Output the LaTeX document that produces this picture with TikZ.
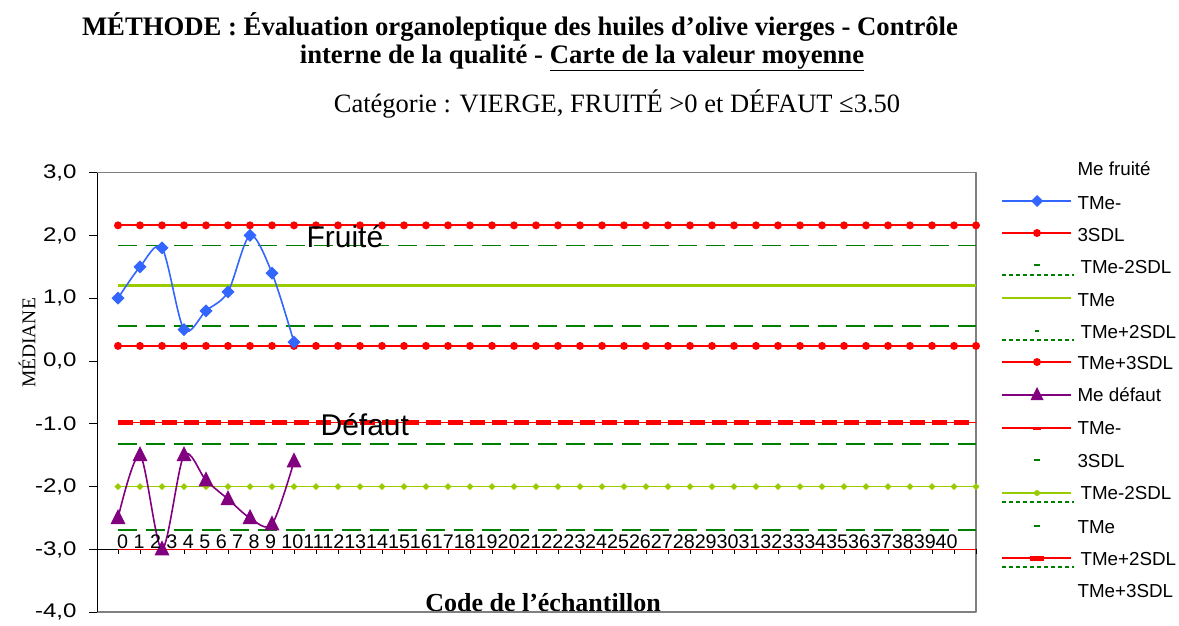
\documentclass[tikz,border=0pt]{standalone}
\usepackage{fontspec}
\setmainfont{Liberation Serif}
\setsansfont{Liberation Sans}
\usetikzlibrary{calc}

\definecolor{fruitblue}{RGB}{51,102,255}
\definecolor{limitred}{RGB}{255,0,0}
\definecolor{warngreen}{RGB}{0,128,0}
\definecolor{meangreen}{RGB}{153,204,0}
\definecolor{defpurple}{RGB}{128,0,128}
\definecolor{framegray}{RGB}{128,128,128}

\begin{document}
\begin{tikzpicture}[x=1pt,y=1pt,line join=round,
    limit/.style={limitred,line width=1.8pt},
    warn/.style={warngreen,line width=1.6pt,dash pattern=on 19pt off 9pt},
    meanline/.style={meangreen,line width=2.4pt},
    axisfont/.style={font=\sffamily\fontsize{19.7}{22}\selectfont},
    legfont/.style={font=\sffamily\fontsize{18.8}{22}\selectfont,anchor=west}]
    \useasboundingbox (0,0) rectangle (1179,-626);

    % Titles above the chart.
    \node[font=\bfseries\fontsize{26.7}{30}\selectfont] (title1) at (520,-27)
      {MÉTHODE : Évaluation organoleptique des huiles d’olive vierges - Contrôle};
    \node[font=\bfseries\fontsize{26.7}{30}\selectfont] (title2) at (582,-58)
      {interne de la qualité - \underline{Carte de la valeur moyenne}};
    \node[font=\fontsize{26.5}{30}\selectfont] (subtitle) at (617,-104)
      {Catégorie : VIERGE, FRUITÉ >0 et DÉFAUT ≤3.50};
    \node[font=\fontsize{19.5}{22}\selectfont,rotate=90] (ylabel) at (27,-343)
      {MÉDIANE};
    \node[font=\bfseries\fontsize{26}{28}\selectfont] (xlabel) at (543,-603)
      {Code de l’échantillon};

    \begin{scope}[shift={(118,-361)},x=22pt,y=62.8pt]
    % Plot area and axes.
    \draw[framegray,line width=1.5pt] (-0.955,-4) -- (39,-4) -- (39,3)
      -- (-0.955,3);
    \draw[line width=0.8pt] (-0.955,-4) -- (-0.955,3);
    \foreach \v/\txt in {3/{3,0},2/{2,0},1/{1,0},0/{0,0},-1/{-1.0},
        -2/{-2,0},-3/{-3,0},-4/{-4,0}} {
      \draw[line width=0.8pt] (-0.955,\v) -- ++(-8pt,0);
      \node[axisfont,anchor=east] at ($(-0.955,\v)+(-17pt,0)$)
        {\scalebox{1.22}[1]{\txt}};
    }
    \draw[line width=0.8pt] ($(-0.955,-3)+(-8pt,0)$) -- (39,-3);
    \foreach \i in {0,...,39}
      \draw[line width=0.6pt] (\i,-3) -- ++(0,-5pt);

    % Control limits of the fruity median.
    \draw[limit] (0,2.16) -- (39,2.16);
    \draw[limit] (0,0.24) -- (39,0.24);
    \foreach \i in {0,...,39} {
      \fill[limitred] (\i,2.16) circle (4pt);
      \fill[limitred] (\i,0.24) circle (4pt);
    }
    \draw[warn] (0,1.84) -- (39,1.84);
    \draw[meanline] (0,1.205) -- (39,1.205);
    \draw[warn] (0,0.56) -- (39,0.56);

    % Control limits of the defect median.
    \draw[limit] (0,-0.98) -- (39,-0.98);
    \draw[limitred,line width=4.5pt,dash pattern=on 15pt off 7pt]
      (0,-0.98) -- (39,-0.98);
    \draw[warn] (0,-1.32) -- (39,-1.32);
    \draw[meangreen,line width=1.6pt] (0,-2) -- (39,-2);
    \foreach \i in {0,...,39}
      \fill[meangreen] (\i,-2) ++(0,3.5pt) -- ++(3.5pt,-3.5pt)
        -- ++(-3.5pt,-3.5pt) -- ++(-3.5pt,3.5pt) -- cycle;
    \draw[warn] (0,-2.69) -- (39,-2.69);
    \draw[limit] (0,-3) -- (39,-3);

    % Fruity medians.
    \draw[fruitblue,line width=1.6pt] plot[smooth] coordinates
      {(0,1.0) (1,1.5) (2,1.8) (3,0.5) (4,0.8) (5,1.1) (6,2.0) (7,1.4) (8,0.3)};
    \foreach \v [count=\i from 0] in {1.0,1.5,1.8,0.5,0.8,1.1,2.0,1.4,0.3}
      \fill[fruitblue] (\i,\v) ++(0,6.5pt) -- ++(6.5pt,-6.5pt)
        -- ++(-6.5pt,-6.5pt) -- ++(-6.5pt,6.5pt) -- cycle;

    % Defect medians.
    \draw[defpurple,line width=1.6pt] plot[smooth] coordinates
      {(0,-2.5) (1,-1.5) (2,-3.0) (3,-1.5) (4,-1.9) (5,-2.2) (6,-2.5)
       (7,-2.6) (8,-1.6)};
    \foreach \v [count=\i from 0] in {-2.5,-1.5,-3.0,-1.5,-1.9,-2.2,-2.5,-2.6,-1.6}
      \fill[defpurple] (\i,\v) ++(0,9pt) -- ++(7.5pt,-15pt) -- ++(-15pt,0)
        -- cycle;

    \node[font=\sffamily\fontsize{30}{32}\selectfont,anchor=base west]
      (fruite) at (8.41,1.815) {Fruité};
    \node[font=\sffamily\fontsize{30}{32}\selectfont,anchor=base west]
      (defaut) at (9.05,-1.18) {Défaut};
    \node[axisfont,anchor=west,inner sep=0pt] (codes) at ($(0,-3)+(-1pt,8pt)$)
      {0 1 2 3 4 5 6 7 8 9 10111213141516171819202122232425262728293031323334353637383940};
    \end{scope}

    % Legend.
    \node[legfont] (leg1) at (1074,-169) {Me fruité};
    \draw[fruitblue,line width=1.8pt] (1002,-201) -- (1071,-201);
    \fill[fruitblue] (1037,-201) ++(0,6pt) -- ++(6pt,-6pt) -- ++(-6pt,-6pt)
      -- ++(-6pt,6pt) -- cycle;
    \node[legfont] (leg2) at (1074,-203) {TMe-};
    \draw[limit] (1002,-233) -- (1071,-233);
    \fill[limitred] (1037,-233) circle (4pt);
    \node[legfont] (leg3) at (1074,-235) {3SDL};
    \fill[warngreen] (1034,-264) rectangle (1040,-266);
    \draw[warngreen,line width=1.4pt,dash pattern=on 4pt off 3pt]
      (1002,-275) -- (1074,-275);
    \node[legfont] (leg4) at (1077,-267) {TMe-2SDL};
    \draw[meanline] (1002,-298) -- (1071,-298);
    \node[legfont] (leg5) at (1074,-300) {TMe};
    \fill[warngreen] (1035,-330) rectangle (1039,-332);
    \draw[warngreen,line width=1.4pt,dash pattern=on 4pt off 3pt]
      (1002,-340) -- (1074,-340);
    \node[legfont] (leg6) at (1077,-332) {TMe+2SDL};
    \draw[limit] (1002,-362) -- (1071,-362);
    \fill[limitred] (1037,-362) circle (4pt);
    \node[legfont] (leg7) at (1074,-363) {TMe+3SDL};
    \draw[defpurple,line width=1.8pt] (1002,-395) -- (1071,-395);
    \fill[defpurple] (1037,-395) ++(0,8pt) -- ++(6.5pt,-13pt) -- ++(-13pt,0)
      -- cycle;
    \node[legfont] (leg8) at (1074,-395) {Me défaut};
    \draw[limit] (1002,-428) -- (1071,-428);
    \fill[limitred] (1033,-426.5) rectangle (1041,-429.5);
    \node[legfont] (leg9) at (1074,-428) {TMe-};
    \fill[warngreen] (1034,-459) rectangle (1040,-461);
    \node[legfont] (leg10) at (1074,-461) {3SDL};
    \draw[meangreen,line width=1.8pt] (1002,-493) -- (1071,-493);
    \fill[meangreen] (1037,-493) circle (3pt);
    \draw[warngreen,line width=1.4pt,dash pattern=on 4pt off 3pt]
      (1002,-502) -- (1074,-502);
    \node[legfont] (leg11) at (1077,-493) {TMe-2SDL};
    \fill[warngreen] (1034,-525) rectangle (1040,-527);
    \node[legfont] (leg12) at (1074,-527) {TMe};
    \draw[limit] (1002,-558) -- (1071,-558);
    \fill[limitred] (1030,-555.5) rectangle (1044,-560.5);
    \draw[warngreen,line width=1.4pt,dash pattern=on 4pt off 3pt]
      (1002,-567) -- (1074,-567);
    \node[legfont] (leg13) at (1077,-559) {TMe+2SDL};
    \node[legfont] (leg14) at (1074,-591) {TMe+3SDL};
\end{tikzpicture}
\end{document}
